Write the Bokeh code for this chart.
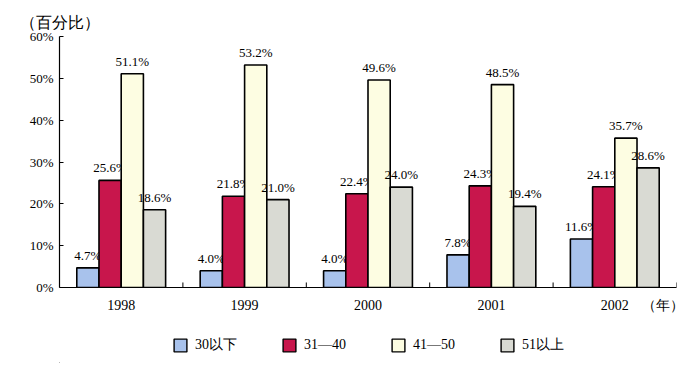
from bokeh.plotting import figure
from bokeh.layouts import column
from bokeh.models import ColumnDataSource, FixedTicker, Legend, LegendItem
from bokeh.transform import dodge
from bokeh.core.properties import value
from bokeh.embed import file_html
from bokeh.resources import INLINE

years = ["1998", "1999", "2000", "2001", "2002"]
year_unit = "（年）"
y_title = "（百分比）"
series_names = ["30以下", "31—40", "41—50", "51以上"]
s_under30 = [4.7, 4.0, 4.0, 7.8, 11.6]
s_31_40 = [25.6, 21.8, 22.4, 24.3, 24.1]
s_41_50 = [51.1, 53.2, 49.6, 48.5, 35.7]
s_51up = [18.6, 21.0, 24.0, 19.4, 28.6]
y_ticks = [0, 10, 20, 30, 40, 50, 60]

colors = ["#a8c2ec", "#c8164c", "#fdfde2", "#d9dad3"]
series = [s_under30, s_31_40, s_41_50, s_51up]
offsets = [-0.27, -0.09, 0.09, 0.27]
bar_w = 0.18

SERIF = "Liberation Serif"

xc = [i + 0.5 for i in range(len(years))]

p = figure(width=698, height=319, x_range=(0, len(years)), y_range=(0, 60),
           output_backend="svg", toolbar_location=None,
           min_border_left=59, min_border_right=22, min_border_top=36, min_border_bottom=32)
p.outline_line_color = None
p.xgrid.visible = False
p.ygrid.visible = False

for name, vals, col, off in zip(series_names, series, colors, offsets):
    src = ColumnDataSource(dict(x=xc, y=vals, lab=[f"{v:.1f}%" for v in vals]))
    p.vbar(x=dodge("x", off), top="y", width=bar_w, source=src,
           fill_color=col, line_color="black", line_width=1.6)
    p.text(x=dodge("x", off), y="y", text="lab", source=src, text_align="center",
           text_baseline="bottom", y_offset=-5, text_font=value(SERIF),
           text_font_size="13px", text_color="black")

# group boundary ticks on x axis
bounds = [i + 1 for i in range(len(years))]
p.segment(x0=bounds, x1=bounds, y0=[0] * len(bounds), y1=[1.2] * len(bounds),
          line_color="black", line_width=1)

p.title.text = y_title
p.title.align = "left"
p.title.offset = -40
p.title.standoff = 12
p.title.text_font = SERIF
p.title.text_font_size = "16px"
p.title.text_font_style = "normal"
p.title.text_color = "black"

p.yaxis.ticker = FixedTicker(ticks=y_ticks)
p.yaxis.major_label_overrides = {t: f"{t}%" for t in y_ticks}
p.yaxis.major_tick_in = 4
p.yaxis.major_tick_out = 0
p.yaxis.minor_tick_line_color = None
p.yaxis.axis_line_color = "black"
p.yaxis.axis_line_width = 1.2
p.yaxis.major_tick_line_width = 1.2
p.yaxis.major_label_text_font = SERIF
p.yaxis.major_label_text_font_size = "13px"
p.yaxis.major_label_text_color = "black"
p.yaxis.major_label_standoff = 6

unit_x = len(years) - 0.113
p.xaxis.ticker = FixedTicker(ticks=xc + [unit_x])
labels = {x: y for x, y in zip(xc, years)}
labels[unit_x] = year_unit
p.xaxis.major_label_overrides = labels
p.xaxis.major_tick_in = 0
p.xaxis.major_tick_out = 0
p.xaxis.minor_tick_line_color = None
p.xaxis.axis_line_color = "black"
p.xaxis.axis_line_width = 1.2
p.xaxis.major_label_text_font = SERIF
p.xaxis.major_label_text_font_size = "14px"
p.xaxis.major_label_text_color = "black"
p.xaxis.major_label_standoff = 10

# legend figure below (proxy glyphs lie far outside its visible range)
lf = figure(width=698, height=44, x_range=(0, 1), y_range=(0, 1),
            output_backend="svg", toolbar_location=None,
            x_axis_type=None, y_axis_type=None,
            min_border_left=0, min_border_right=0, min_border_top=0, min_border_bottom=0)
lf.outline_line_color = None
lf.xgrid.visible = False
lf.ygrid.visible = False
items = []
for name, col in zip(series_names, colors):
    r = lf.vbar(x=[-100], top=[-100], bottom=[-101], width=0.1, fill_color=col,
                line_color="black", line_width=1.4)
    items.append(LegendItem(label=name, renderers=[r]))
legend = Legend(items=items, orientation="horizontal", location=(113, 9),
                spacing=44, label_standoff=7, glyph_width=16, glyph_height=16,
                label_text_font=SERIF, label_text_font_size="14px",
                label_text_color="black",
                border_line_color=None, background_fill_alpha=0, padding=0, margin=0)
lf.add_layout(legend, "center")

layout = column(p, lf, spacing=0)
open("out.html", "w").write(file_html(layout, INLINE))
